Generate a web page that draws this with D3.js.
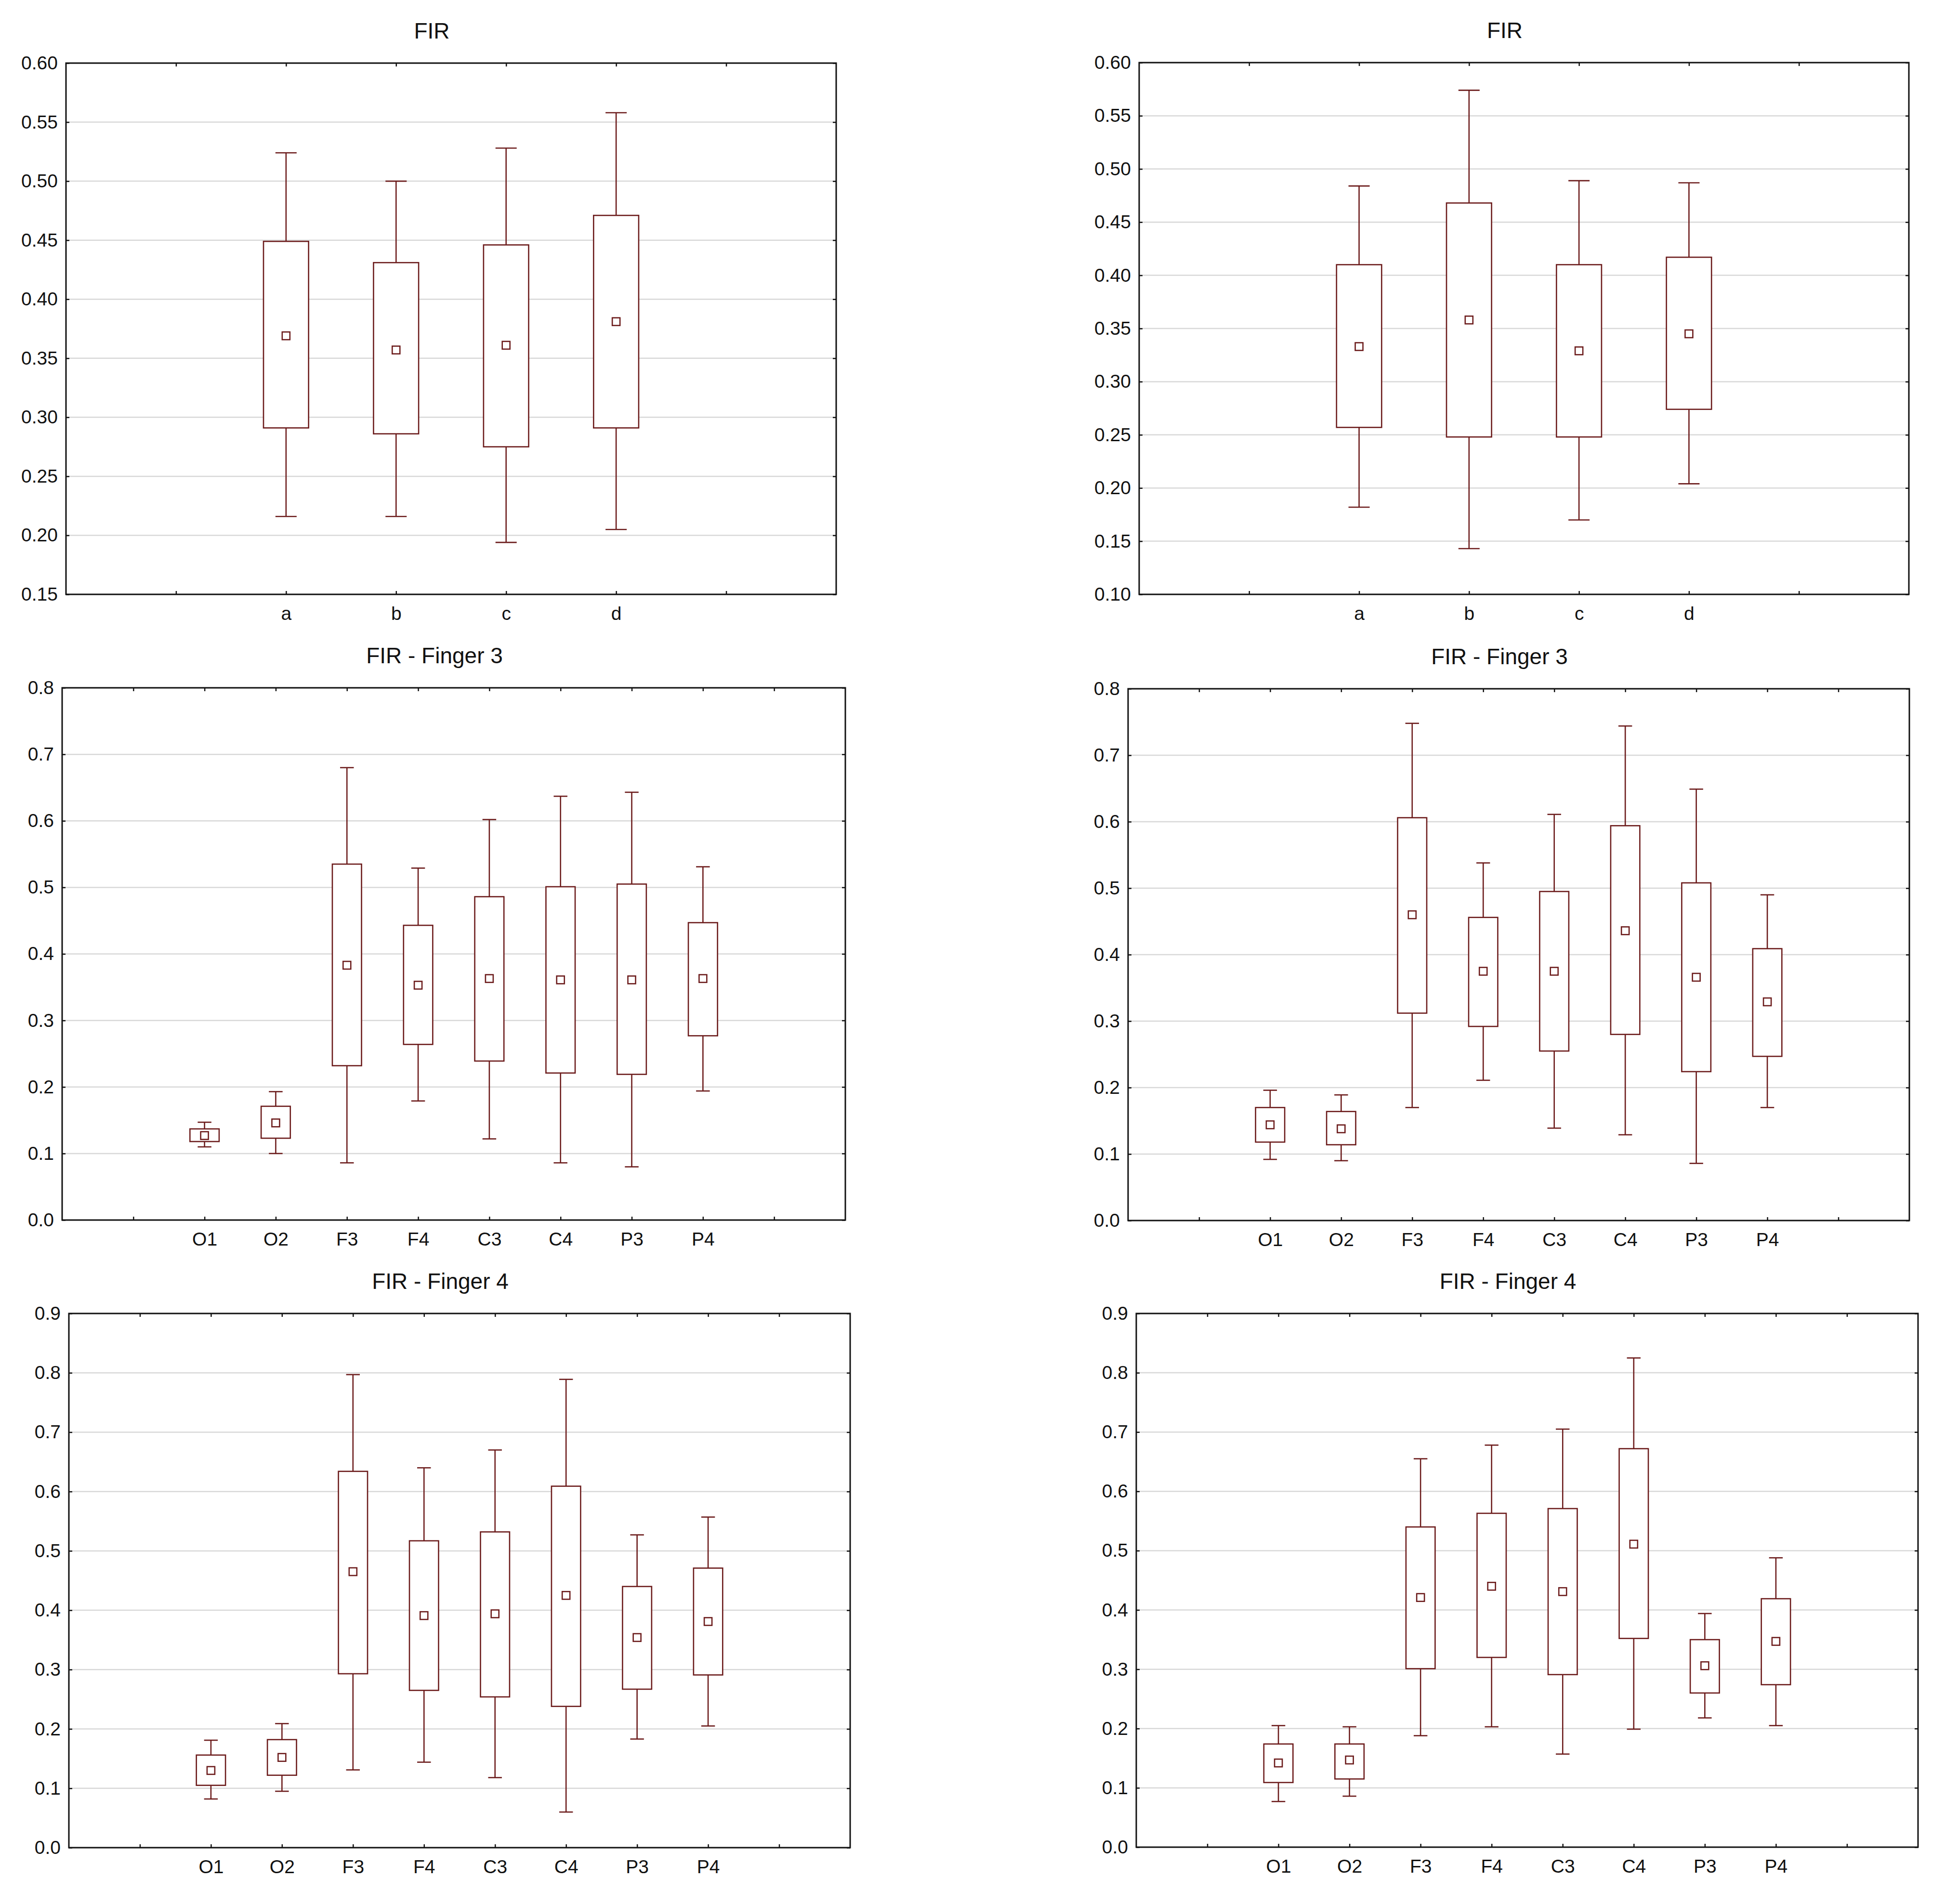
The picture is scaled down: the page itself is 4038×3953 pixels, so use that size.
<!DOCTYPE html>
<html>
<head>
<meta charset="utf-8">
<script src="https://cdn.jsdelivr.net/npm/d3@7"></script>
<style>
  html, body { margin: 0; padding: 0; background: #fff; }
  svg { display: block; font-family: "Liberation Sans", Arial, sans-serif; }
</style>
</head>
<body>
<svg id="chart" width="4038" height="3953"></svg>
<script>
// categories
const catsABCD = ["a", "b", "c", "d"];
const catsElec = ["O1", "O2", "F3", "F4", "C3", "C4", "P3", "P4"];

// y tick values
const ticksFirL = [0.15, 0.20, 0.25, 0.30, 0.35, 0.40, 0.45, 0.50, 0.55, 0.60];
const ticksFirR = [0.10, 0.15, 0.20, 0.25, 0.30, 0.35, 0.40, 0.45, 0.50, 0.55, 0.60];
const ticksF3 = [0.0, 0.1, 0.2, 0.3, 0.4, 0.5, 0.6, 0.7, 0.8];
const ticksF4 = [0.0, 0.1, 0.2, 0.3, 0.4, 0.5, 0.6, 0.7, 0.8, 0.9];

// FIR, left: whisker low, box low, mean, box high, whisker high
const firL_lo   = [0.216, 0.216, 0.194, 0.205];
const firL_q1   = [0.291, 0.286, 0.275, 0.291];
const firL_mean = [0.369, 0.357, 0.361, 0.381];
const firL_q3   = [0.449, 0.431, 0.446, 0.471];
const firL_hi   = [0.524, 0.500, 0.528, 0.558];

// FIR, right
const firR_lo   = [0.182, 0.143, 0.170, 0.204];
const firR_q1   = [0.257, 0.248, 0.248, 0.274];
const firR_mean = [0.333, 0.358, 0.329, 0.345];
const firR_q3   = [0.410, 0.468, 0.410, 0.417];
const firR_hi   = [0.484, 0.574, 0.489, 0.487];

// FIR - Finger 3, left
const f3L_lo   = [0.110, 0.100, 0.086, 0.179, 0.122, 0.086, 0.080, 0.194];
const f3L_q1   = [0.118, 0.123, 0.232, 0.264, 0.239, 0.221, 0.219, 0.277];
const f3L_mean = [0.127, 0.146, 0.383, 0.353, 0.363, 0.361, 0.361, 0.363];
const f3L_q3   = [0.137, 0.171, 0.535, 0.443, 0.486, 0.501, 0.505, 0.447];
const f3L_hi   = [0.147, 0.193, 0.680, 0.529, 0.602, 0.637, 0.643, 0.531];

// FIR - Finger 3, right
const f3R_lo   = [0.092, 0.090, 0.170, 0.211, 0.139, 0.129, 0.086, 0.170];
const f3R_q1   = [0.118, 0.114, 0.312, 0.292, 0.255, 0.280, 0.224, 0.247];
const f3R_mean = [0.144, 0.138, 0.460, 0.375, 0.375, 0.436, 0.366, 0.329];
const f3R_q3   = [0.170, 0.164, 0.606, 0.456, 0.495, 0.594, 0.508, 0.409];
const f3R_hi   = [0.196, 0.189, 0.748, 0.538, 0.611, 0.744, 0.649, 0.490];

// FIR - Finger 4, left
const f4L_lo   = [0.082, 0.095, 0.131, 0.144, 0.118, 0.060, 0.183, 0.205];
const f4L_q1   = [0.105, 0.122, 0.293, 0.265, 0.254, 0.238, 0.267, 0.291];
const f4L_mean = [0.130, 0.152, 0.465, 0.391, 0.394, 0.425, 0.354, 0.381];
const f4L_q3   = [0.156, 0.182, 0.634, 0.517, 0.532, 0.609, 0.440, 0.471];
const f4L_hi   = [0.181, 0.209, 0.797, 0.640, 0.670, 0.789, 0.527, 0.557];

// FIR - Finger 4, right
const f4R_lo   = [0.077, 0.086, 0.188, 0.203, 0.157, 0.199, 0.218, 0.205];
const f4R_q1   = [0.109, 0.115, 0.301, 0.320, 0.291, 0.352, 0.260, 0.274];
const f4R_mean = [0.142, 0.147, 0.421, 0.440, 0.431, 0.511, 0.306, 0.347];
const f4R_q3   = [0.174, 0.174, 0.540, 0.563, 0.571, 0.672, 0.350, 0.419];
const f4R_hi   = [0.205, 0.203, 0.655, 0.678, 0.705, 0.825, 0.394, 0.488];

const boxColor = "#6c1c1c";

const panels = [
  { title: "FIR", cats: catsABCD, ticks: ticksFirL, fmt: ".2f",
    lo: firL_lo, q1: firL_q1, mean: firL_mean, q3: firL_q3, hi: firL_hi,
    x0: 137, x1: 1736, y0: 131, y1: 1234 },
  { title: "FIR", cats: catsABCD, ticks: ticksFirR, fmt: ".2f",
    lo: firR_lo, q1: firR_q1, mean: firR_mean, q3: firR_q3, hi: firR_hi,
    x0: 2365, x1: 3963, y0: 130, y1: 1234 },
  { title: "FIR - Finger 3", cats: catsElec, ticks: ticksF3, fmt: ".1f",
    lo: f3L_lo, q1: f3L_q1, mean: f3L_mean, q3: f3L_q3, hi: f3L_hi,
    x0: 129, x1: 1755, y0: 1428, y1: 2533 },
  { title: "FIR - Finger 3", cats: catsElec, ticks: ticksF3, fmt: ".1f",
    lo: f3R_lo, q1: f3R_q1, mean: f3R_mean, q3: f3R_q3, hi: f3R_hi,
    x0: 2342, x1: 3964, y0: 1430, y1: 2534 },
  { title: "FIR - Finger 4", cats: catsElec, ticks: ticksF4, fmt: ".1f",
    lo: f4L_lo, q1: f4L_q1, mean: f4L_mean, q3: f4L_q3, hi: f4L_hi,
    x0: 143, x1: 1765, y0: 2727, y1: 3836 },
  { title: "FIR - Finger 4", cats: catsElec, ticks: ticksF4, fmt: ".1f",
    lo: f4R_lo, q1: f4R_q1, mean: f4R_mean, q3: f4R_q3, hi: f4R_hi,
    x0: 2359, x1: 3982, y0: 2727, y1: 3835 }
];

const svg = d3.select("#chart");
svg.append("rect").attr("width", 4038).attr("height", 3953).attr("fill", "#fff");

panels.forEach(p => {
  const n = p.cats.length;
  // categories sit at slots 2..n+1, ticks at 1..n+2, n+3 slots in total
  const x = d3.scaleLinear().domain([0, n + 3]).range([p.x0, p.x1]);
  const y = d3.scaleLinear().domain([p.ticks[0], p.ticks.at(-1)]).range([p.y1, p.y0]);
  const step = x(1) - x(0);
  const boxW = step * 0.41;
  const capW = boxW * 0.47;
  const tickSlots = d3.range(1, n + 3);

  const g = svg.append("g");

  // grid
  g.append("g")
    .selectAll("line")
    .data(p.ticks)
    .join("line")
    .attr("x1", p.x0).attr("x2", p.x1)
    .attr("y1", d => y(d)).attr("y2", d => y(d))
    .attr("stroke", "#d8d8d8")
    .attr("stroke-width", 2.5);

  // boxes
  const items = p.cats.map((c, i) => ({
    c, cx: x(i + 2), lo: p.lo[i], q1: p.q1[i], mean: p.mean[i], q3: p.q3[i], hi: p.hi[i]
  }));
  const box = g.append("g")
    .attr("fill", "none")
    .attr("stroke", boxColor)
    .attr("stroke-width", 2.6)
    .selectAll("g")
    .data(items)
    .join("g");

  box.append("line")
    .attr("x1", d => d.cx).attr("x2", d => d.cx)
    .attr("y1", d => y(d.hi)).attr("y2", d => y(d.q3));
  box.append("line")
    .attr("x1", d => d.cx).attr("x2", d => d.cx)
    .attr("y1", d => y(d.q1)).attr("y2", d => y(d.lo));
  box.append("line")
    .attr("x1", d => d.cx - capW / 2).attr("x2", d => d.cx + capW / 2)
    .attr("y1", d => y(d.hi)).attr("y2", d => y(d.hi));
  box.append("line")
    .attr("x1", d => d.cx - capW / 2).attr("x2", d => d.cx + capW / 2)
    .attr("y1", d => y(d.lo)).attr("y2", d => y(d.lo));
  box.append("rect")
    .attr("x", d => d.cx - boxW / 2)
    .attr("width", boxW)
    .attr("y", d => y(d.q3))
    .attr("height", d => y(d.q1) - y(d.q3))
    .attr("fill", "#fff");
  box.append("rect")
    .attr("x", d => d.cx - 8)
    .attr("y", d => y(d.mean) - 8)
    .attr("width", 16).attr("height", 16)
    .attr("fill", "#fff");

  // axes with inward ticks
  const fmt = d3.format(p.fmt);
  const styleAxis = sel => {
    sel.select(".domain").remove();
    sel.selectAll(".tick line").attr("stroke", "#111").attr("stroke-width", 2.5);
    sel.selectAll("text").attr("font-size", 39).attr("fill", "#111")
      .attr("font-family", '"Liberation Sans", Arial, sans-serif');
  };

  g.append("g").attr("transform", `translate(${p.x0},0)`)
    .call(d3.axisLeft(y).tickValues(p.ticks).tickFormat(fmt).tickSize(-7).tickPadding(17))
    .call(styleAxis);
  g.append("g").attr("transform", `translate(${p.x1},0)`)
    .call(d3.axisRight(y).tickValues(p.ticks).tickFormat("").tickSize(-7))
    .call(styleAxis);
  g.append("g").attr("transform", `translate(0,${p.y1})`)
    .call(d3.axisBottom(x).tickValues(tickSlots)
      .tickFormat(v => p.cats[v - 2] || "").tickSize(-7).tickPadding(25))
    .call(styleAxis);
  g.append("g").attr("transform", `translate(0,${p.y0})`)
    .call(d3.axisTop(x).tickValues(tickSlots).tickFormat("").tickSize(-7))
    .call(styleAxis);

  // frame
  g.append("rect")
    .attr("x", p.x0).attr("y", p.y0)
    .attr("width", p.x1 - p.x0).attr("height", p.y1 - p.y0)
    .attr("fill", "none")
    .attr("stroke", "#111")
    .attr("stroke-width", 3);

  // title
  g.append("text")
    .attr("x", (p.x0 - 80 + p.x1) / 2)
    .attr("y", p.y0 - 51)
    .attr("text-anchor", "middle")
    .attr("font-size", 46)
    .attr("fill", "#111")
    .text(p.title);
});
</script>
</body>
</html>
